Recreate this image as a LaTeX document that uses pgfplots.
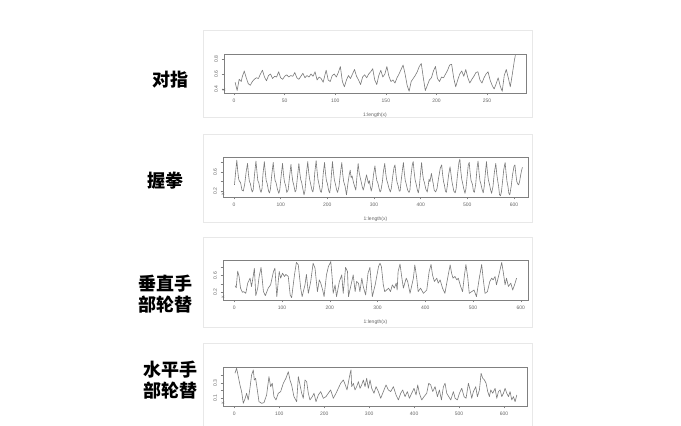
\documentclass[border=0pt]{standalone}
\usepackage{pgfplots}
\pgfplotsset{compat=1.18}
\usepackage{fontspec}
\setmainfont{Liberation Sans}
\newfontfamily\cjk{Noto Sans CJK SC}
\pgfplotsset{
  rplot/.style={
    scale only axis, anchor=south west,
    axis line style={black!50, line width=0.55pt},
    tick style={black!50, line width=0.45pt},
    tick align=outside, major tick length=2.5pt,
    xtick pos=left, ytick pos=left,
    tick label style={font=\fontsize{5}{6}\selectfont, text=black!60},
    /pgf/number format/assume math mode=true,
    yticklabel style={rotate=90, anchor=south},
    label style={font=\fontsize{5}{6}\selectfont, text=black!60},
    ylabel={x},
    ylabel style={at={(axis description cs:0,0.5)}, anchor=center, xshift=-17pt},
    no markers,
  },
  rxlab/.style={xlabel={1:length(x)},
    xlabel style={at={(axis description cs:0.5,0)}, anchor=center, yshift=-22pt}},
  rline/.style={draw=black!52, line width=0.6pt, mark=none, line join=round},
}
\begin{document}
\begin{tikzpicture}[x=1pt,y=1pt]
\useasboundingbox (0,0) rectangle (681,426);
\fill[white] (0,0) rectangle (681,426);
% cards
\draw[black!9, line width=0.7pt, fill=white] (203,309) rectangle (532,396);
\draw[black!9, line width=0.7pt, fill=white] (203,204) rectangle (532,292);
\draw[black!9, line width=0.7pt, fill=white] (203,99) rectangle (532,189);
\draw[black!9, line width=0.7pt, fill=white] (203,-4) rectangle (532,83);

% Panel 1
\begin{axis}[rplot, rxlab, at={(224pt,333pt)}, width=302pt, height=39pt,
  xmin=-10, xmax=288.5, ymin=0.347, ymax=0.867,
  xtick={0,50,100,150,200,250}, ytick={0.4,0.6,0.8}, yticklabels={0.4,0.6,0.8}]
\addplot[rline] coordinates {
(1,0.49)(3,0.38)(5,0.53)(7,0.50)(8,0.56)(10,0.64)(12,0.55)(14,0.47)(16,0.45)(18,0.50)
(20,0.53)(22,0.55)(24,0.54)(26,0.60)(28,0.65)(30,0.56)(32,0.51)(34,0.58)(36,0.60)(38,0.54)
(40,0.57)(42,0.56)(44,0.63)(46,0.55)(48,0.53)(50,0.57)(52,0.59)(54,0.56)(56,0.58)(58,0.57)
(60,0.62)(62,0.55)(64,0.53)(66,0.57)(68,0.61)(70,0.55)(72,0.58)(74,0.56)(76,0.60)(78,0.57)
(80,0.63)(82,0.52)(84,0.56)(86,0.54)(88,0.49)(90,0.60)(91,0.65)(93,0.52)(95,0.50)(97,0.58)
(99,0.60)(101,0.56)(103,0.62)(105,0.70)(107,0.50)(109,0.43)(111,0.52)(113,0.58)(115,0.54)
(117,0.60)(119,0.66)(121,0.57)(123,0.52)(125,0.46)(127,0.56)(129,0.59)(131,0.55)(133,0.60)
(135,0.63)(137,0.67)(139,0.52)(141,0.46)(143,0.58)(145,0.65)(147,0.56)(149,0.60)(151,0.70)
(153,0.57)(155,0.50)(157,0.52)(159,0.48)(161,0.55)(163,0.60)(165,0.66)(167,0.72)(169,0.60)
(171,0.45)(173,0.37)(175,0.50)(177,0.54)(179,0.58)(181,0.63)(183,0.70)(185,0.74)(187,0.55)
(189,0.38)(191,0.45)(193,0.52)(195,0.55)(197,0.64)(199,0.70)(201,0.54)(203,0.50)(205,0.56)
(207,0.55)(209,0.60)(211,0.65)(213,0.72)(215,0.73)(217,0.55)(219,0.43)(221,0.52)(223,0.60)
(225,0.64)(227,0.57)(229,0.66)(231,0.55)(233,0.48)(235,0.53)(237,0.57)(239,0.62)(241,0.63)
(243,0.52)(245,0.48)(247,0.55)(249,0.60)(251,0.63)(253,0.52)(255,0.45)(257,0.40)(259,0.47)
(261,0.55)(263,0.44)(265,0.37)(267,0.58)(269,0.66)(271,0.55)(273,0.43)(275,0.60)(277,0.78)
(278,0.85)};
\end{axis}

% Panel 2
\begin{axis}[rplot, rxlab, at={(223pt,229pt)}, width=305pt, height=40pt,
  xmin=-23.6, xmax=630, ymin=0.074, ymax=0.916,
  xtick={0,100,200,300,400,500,600}, ytick={0.2,0.4,0.6,0.8}, yticklabels={0.2,,0.6,}]
\addplot[rline] coordinates {
(1,0.33)(3,0.55)(6,0.85)(8,0.62)(10,0.45)(12,0.40)(14,0.38)(17,0.22)(20,0.20)(23,0.35)
(26,0.60)(29,0.78)(31,0.55)(33,0.40)(35,0.36)(37,0.25)(39,0.18)(41,0.22)(44,0.55)(47,0.83)
(49,0.62)(51,0.42)(53,0.38)(56,0.22)(58,0.17)(60,0.25)(62,0.55)(65,0.82)(67,0.60)(69,0.42)
(71,0.36)(74,0.20)(76,0.16)(78,0.24)(81,0.55)(84,0.80)(86,0.58)(88,0.42)(90,0.38)(93,0.24)
(96,0.15)(98,0.22)(101,0.52)(104,0.78)(106,0.55)(108,0.40)(111,0.30)(113,0.17)(116,0.22)
(119,0.50)(122,0.76)(124,0.55)(126,0.40)(128,0.33)(131,0.18)(133,0.22)(136,0.50)(139,0.78)
(141,0.58)(143,0.44)(145,0.38)(148,0.22)(150,0.12)(152,0.20)(155,0.55)(158,0.82)(160,0.60)
(162,0.45)(164,0.36)(167,0.22)(169,0.18)(171,0.30)(173,0.58)(176,0.84)(178,0.62)(180,0.44)
(182,0.35)(185,0.20)(187,0.17)(189,0.28)(191,0.55)(194,0.80)(196,0.58)(198,0.42)(200,0.36)
(203,0.20)(205,0.16)(207,0.30)(209,0.58)(211,0.82)(213,0.60)(215,0.44)(217,0.36)(220,0.22)
(222,0.17)(225,0.30)(228,0.58)(231,0.80)(233,0.55)(235,0.40)(238,0.30)(241,0.12)(244,0.35)
(247,0.55)(249,0.64)(251,0.48)(253,0.52)(256,0.38)(259,0.28)(261,0.22)(263,0.45)(266,0.78)
(268,0.60)(270,0.50)(272,0.42)(275,0.28)(277,0.22)(279,0.30)(282,0.45)(284,0.54)(286,0.45)
(288,0.36)(290,0.42)(292,0.30)(294,0.20)(296,0.28)(299,0.55)(302,0.73)(304,0.55)(306,0.42)
(308,0.38)(311,0.25)(313,0.18)(315,0.22)(318,0.40)(320,0.60)(323,0.78)(325,0.58)(327,0.44)
(329,0.38)(332,0.26)(335,0.18)(337,0.25)(340,0.50)(343,0.70)(345,0.75)(347,0.55)(349,0.40)
(352,0.30)(354,0.20)(356,0.20)(358,0.40)(361,0.65)(363,0.80)(365,0.58)(367,0.42)(369,0.35)
(372,0.22)(375,0.17)(377,0.22)(379,0.50)(382,0.75)(384,0.82)(386,0.60)(388,0.44)(390,0.36)
(393,0.22)(395,0.16)(397,0.28)(400,0.60)(402,0.80)(404,0.58)(406,0.44)(408,0.38)(411,0.24)
(414,0.18)(416,0.30)(418,0.45)(420,0.40)(423,0.57)(425,0.45)(427,0.35)(429,0.22)(432,0.18)
(435,0.25)(438,0.45)(442,0.68)(445,0.75)(447,0.55)(449,0.40)(451,0.32)(453,0.20)(455,0.17)
(457,0.30)(460,0.55)(463,0.71)(465,0.55)(467,0.40)(469,0.30)(471,0.20)(474,0.16)(476,0.25)
(479,0.55)(482,0.80)(484,0.87)(486,0.62)(488,0.45)(490,0.36)(493,0.22)(495,0.15)(497,0.25)
(500,0.55)(502,0.75)(504,0.80)(506,0.58)(508,0.42)(511,0.34)(513,0.20)(515,0.17)(518,0.35)
(521,0.70)(523,0.83)(525,0.60)(527,0.42)(529,0.35)(532,0.22)(534,0.16)(536,0.28)(539,0.62)
(541,0.82)(543,0.60)(545,0.44)(547,0.36)(550,0.22)(552,0.15)(555,0.30)(558,0.60)(561,0.78)
(563,0.56)(565,0.42)(567,0.30)(569,0.12)(571,0.10)(573,0.18)(576,0.45)(578,0.65)(581,0.80)
(583,0.58)(585,0.40)(587,0.30)(589,0.15)(591,0.12)(594,0.30)(597,0.55)(600,0.72)(602,0.75)
(604,0.55)(606,0.40)(608,0.35)(610,0.33)(612,0.40)(614,0.52)(616,0.62)(618,0.70)};
\end{axis}

% Panel 3
\begin{axis}[rplot, rxlab, at={(223pt,126pt)}, width=305pt, height=40pt,
  xmin=-23.7, xmax=615, ymin=0.014, ymax=0.978,
  xtick={0,100,200,300,400,500,600}, ytick={0.2,0.4,0.6,0.8}, yticklabels={0.2,,0.6,}]
\addplot[rline] coordinates {
(1.5,0.36)(4,0.31)(7,0.71)(10,0.58)(13,0.30)(17,0.20)(20,0.215)(24,0.175)(28,0.42)(33,0.54)
(36,0.34)(40,0.62)(42,0.78)(45,0.12)(49,0.30)(52,0.58)(56,0.80)(61,0.215)(65,0.12)(71,0.30)
(76,0.38)(82,0.70)(85,0.78)(89,0.095)(94,0.70)(97,0.54)(101,0.66)(105,0.58)(108,0.63)(113,0.58)
(117,0.135)(120,0.07)(126,0.62)(130,0.92)(134,0.86)(139,0.30)(142,0.095)(148,0.38)(151,0.63)
(155,0.175)(160,0.46)(165,0.90)(169,0.78)(174,0.215)(178,0.50)(181,0.42)(185,0.255)(188,0.095)
(193,0.62)(197,0.82)(202,0.94)(205,0.54)(207,0.175)(211,0.38)(214,0.095)(220,0.46)(225,0.62)
(228,0.175)(233,0.80)(237,0.70)(239,0.095)(246,0.46)(249,0.62)(253,0.215)(256,0.46)(260,0.42)
(263,0.215)(267,0.54)(270,0.34)(275,0.135)(280,0.66)(284,0.80)(289,0.095)(295,0.38)(302,0.82)
(305,0.90)(308,0.82)(312,0.38)(315,0.215)(319,0.255)(323,0.30)(327,0.215)(331,0.38)(335,0.30)
(339,0.42)(341,0.255)(343,0.70)(347,0.88)(350,0.62)(354,0.30)(360,0.54)(363,0.46)(368,0.175)
(375,0.54)(378,0.86)(382,0.54)(385,0.215)(390,0.30)(396,0.175)(403,0.255)(408,0.70)(412,0.87)
(415,0.62)(419,0.46)(424,0.54)(427,0.42)(431,0.50)(436,0.30)(441,0.175)(448,0.62)(452,0.86)
(455,0.66)(458,0.54)(462,0.58)(466,0.50)(469,0.54)(474,0.34)(478,0.215)(482,0.62)(485,0.87)
(489,0.54)(492,0.175)(497,0.215)(502,0.255)(507,0.095)(513,0.54)(518,0.87)(521,0.54)(525,0.175)
(530,0.215)(535,0.46)(539,0.54)(542,0.50)(546,0.58)(549,0.38)(554,0.62)(560,0.92)(563,0.70)
(567,0.38)(570,0.54)(574,0.34)(579,0.42)(583,0.255)(588,0.42)(591,0.54)};
\end{axis}

% Panel 4
\begin{axis}[rplot, at={(223pt,20pt)}, width=304pt, height=39pt,
  xmin=-25, xmax=651, ymin=-0.007, ymax=0.513,
  xtick={0,100,200,300,400,500,600}, ytick={0.1,0.2,0.3,0.4}, yticklabels={0.1,,0.3,}]
\addplot[rline] coordinates {
(1.6,0.43)(5.3,0.496)(9,0.385)(12.7,0.274)(16.4,0.185)(20.1,0.029)(24,0.09)(27.5,0.163)
(31.2,0.074)(34.9,0.229)(38.6,0.407)(42.4,0.474)(44.6,0.34)(47.5,0.363)(51.3,0.207)(55,0.051)
(60.9,0.029)(66.1,0.038)(72,0.14)(77.2,0.385)(80.9,0.251)(84.6,0.296)(88.3,0.118)(92.8,0.074)
(98,0.163)(103.2,0.185)(109.1,0.296)(115,0.363)(120.2,0.451)(123.9,0.34)(127.6,0.274)
(132.8,0.118)(138.8,0.051)(142.5,0.385)(146.2,0.274)(149.9,0.163)(153.6,0.096)(157.3,0.34)
(161,0.318)(164.7,0.163)(168.4,0.074)(173.6,0.118)(177.3,0.163)(181.8,0.051)(187,0.14)
(192.2,0.185)(198.1,0.096)(204,0.118)(209.2,0.163)(214.4,0.207)(220.3,0.096)(226.3,0.163)
(231.5,0.229)(236.7,0.296)(242.6,0.34)(247,0.274)(250.7,0.207)(257.4,0.42)(259.6,0.474)
(261.1,0.251)(264.8,0.296)(268.5,0.207)(272.3,0.251)(276,0.318)(279.7,0.229)(283.4,0.274)
(287.1,0.34)(290.8,0.251)(294.5,0.363)(298.2,0.229)(302,0.34)(305.7,0.229)(310.8,0.163)
(315.3,0.251)(320.5,0.185)(325.7,0.096)(331.6,0.185)(337.5,0.274)(342.7,0.207)(347.9,0.185)
(353.9,0.251)(359.8,0.14)(365,0.074)(370.2,0.163)(374.6,0.207)(379.8,0.118)(385,0.185)
(389.5,0.096)(394.6,0.163)(399.8,0.229)(404.3,0.14)(408,0.274)(411.7,0.163)(416.9,0.074)
(422.1,0.118)(428,0.163)(432.5,0.296)(436.9,0.274)(441.4,0.185)(446.6,0.251)(451.8,0.118)
(456.2,0.207)(460.7,0.074)(465.1,0.251)(468.8,0.296)(472.5,0.163)(477,0.118)(481.4,0.074)
(487.3,0.185)(491.1,0.096)(496.2,0.074)(500.7,0.163)(505.9,0.229)(511.1,0.118)(515.5,0.096)
(520.7,0.296)(524.4,0.207)(528.1,0.096)(531.8,0.185)(537,0.251)(540.7,0.118)(545.2,0.207)
(548.9,0.429)(552.6,0.363)(556.3,0.34)(560,0.296)(563.7,0.185)(567.4,0.118)(570.4,0.207)
(574.9,0.163)(580,0.229)(583.8,0.096)(587.5,0.185)(591.2,0.207)(594.9,0.118)(598.6,0.163)
(602.3,0.229)(606,0.163)(609.7,0.118)(613.4,0.185)(617.1,0.074)(620.8,0.118)(624.5,0.051)
(628.3,0.14)};
\end{axis}

% labels
\begin{scope}[every node/.style={font=\cjk\bfseries\fontsize{18}{21}\selectfont, text=black, inner sep=0pt}]
\node at (170,346) {对指};
\node at (165,245) {握拳};
\node at (165,142) {垂直手};
\node at (165,121) {部轮替};
\node at (170,56) {水平手};
\node at (170,35) {部轮替};
\end{scope}
\end{tikzpicture}
\end{document}
